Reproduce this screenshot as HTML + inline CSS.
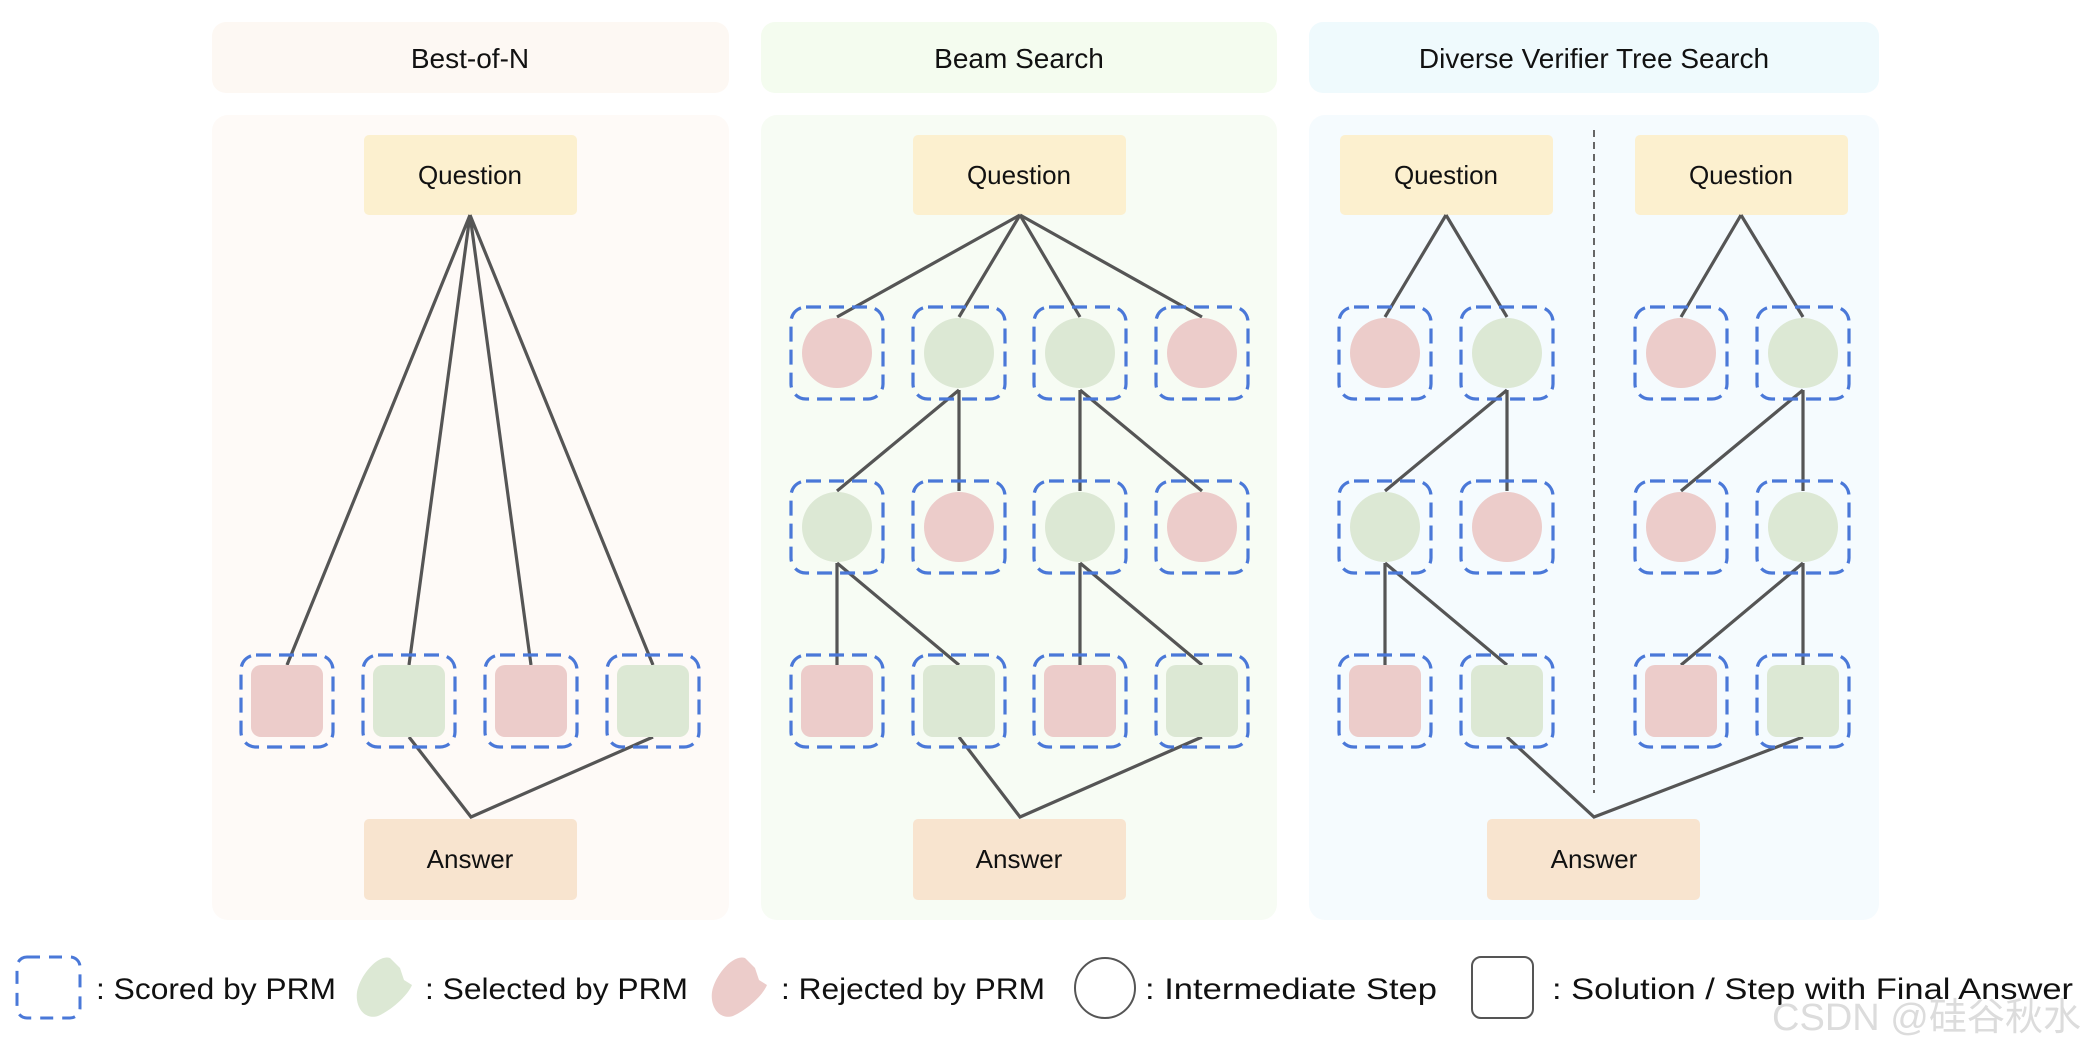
<!DOCTYPE html>
<html><head><meta charset="utf-8"><style>
html,body{margin:0;padding:0;background:#fff;width:2088px;height:1040px;overflow:hidden}
text{font-family:"Liberation Sans","DejaVu Sans",sans-serif;fill:#111}
</style></head><body>
<svg width="2088" height="1040" viewBox="0 0 2088 1040" xmlns="http://www.w3.org/2000/svg">
<defs>
<g id="db"><rect x="-46" y="-46" width="92" height="92" rx="15" fill="none" stroke="#4a78d8" stroke-width="3.2" stroke-dasharray="15 8"/></g>
<g id="rc"><use href="#db"/><circle r="35" fill="#ecccca"/></g>
<g id="gc"><use href="#db"/><circle r="35" fill="#dce8d4"/></g>
<g id="rs"><use href="#db"/><rect x="-36" y="-36" width="72" height="72" rx="10" fill="#ecccca"/></g>
<g id="gs"><use href="#db"/><rect x="-36" y="-36" width="72" height="72" rx="10" fill="#dce8d4"/></g>
</defs>
<!-- panels -->
<rect x="212" y="22" width="517" height="71" rx="14" fill="#fdf8f3"/>
<rect x="761" y="22" width="516" height="71" rx="14" fill="#f4fcef"/>
<rect x="1309" y="22" width="570" height="71" rx="14" fill="#effafd"/>
<rect x="212" y="115" width="517" height="805" rx="16" fill="#fefaf7"/>
<rect x="761" y="115" width="516" height="805" rx="16" fill="#f7fcf4"/>
<rect x="1309" y="115" width="570" height="805" rx="16" fill="#f5fbfe"/>
<g font-size="28" text-anchor="middle">
<text x="470" y="68">Best-of-N</text>
<text x="1019" y="68">Beam Search</text>
<text x="1594" y="68">Diverse Verifier Tree Search</text>
</g>
<!-- Q / A boxes -->
<g fill="#fcf0cf">
<rect x="364" y="135" width="213" height="80" rx="5"/>
<rect x="913" y="135" width="213" height="80" rx="5"/>
<rect x="1340" y="135" width="213" height="80" rx="5"/>
<rect x="1635" y="135" width="213" height="80" rx="5"/>
</g>
<g fill="#f8e4cf">
<rect x="364" y="819" width="213" height="81" rx="5"/>
<rect x="913" y="819" width="213" height="81" rx="5"/>
<rect x="1487" y="819" width="213" height="81" rx="5"/>
</g>
<g font-size="26" text-anchor="middle">
<text x="470" y="184">Question</text>
<text x="1019" y="184">Question</text>
<text x="1446" y="184">Question</text>
<text x="1741" y="184">Question</text>
<text x="470" y="868">Answer</text>
<text x="1019" y="868">Answer</text>
<text x="1594" y="868">Answer</text>
</g>
<line x1="1594" y1="130" x2="1594" y2="793" stroke="#666" stroke-width="2" stroke-dasharray="7 5"/>
<!-- lines -->
<g stroke="#555" stroke-width="3.2" fill="none">
<path d="M470 215 L287 665 M470 215 L409 665 M470 215 L531 665 M470 215 L653 665 M409 737 L471 817 L653 737"/>
<path d="M1020 215 L837 317 M1020 215 L959 317 M1020 215 L1080 317 M1020 215 L1202 317"/>
<path d="M959 390 L837 491 M959 390 L959 491 M1080 390 L1080 491 M1080 390 L1202 491"/>
<path d="M837 563 L837 665 M837 563 L959 665 M1080 563 L1080 665 M1080 563 L1202 665"/>
<path d="M959 737 L1020 817 L1202 737"/>
<path d="M1446 215 L1385 317 M1446 215 L1507 317 M1507 390 L1385 491 M1507 390 L1507 491 M1385 563 L1385 665 M1385 563 L1507 665"/>
<path d="M1741 215 L1681 317 M1741 215 L1803 317 M1803 390 L1681 491 M1803 390 L1803 491 M1803 563 L1681 665 M1803 563 L1803 665"/>
<path d="M1507 737 L1594 817 L1803 737"/>
</g>
<!-- nodes -->
<use href="#rs" x="287" y="701"/><use href="#gs" x="409" y="701"/><use href="#rs" x="531" y="701"/><use href="#gs" x="653" y="701"/>
<use href="#rc" x="837" y="353"/><use href="#gc" x="959" y="353"/><use href="#gc" x="1080" y="353"/><use href="#rc" x="1202" y="353"/>
<use href="#gc" x="837" y="527"/><use href="#rc" x="959" y="527"/><use href="#gc" x="1080" y="527"/><use href="#rc" x="1202" y="527"/>
<use href="#rs" x="837" y="701"/><use href="#gs" x="959" y="701"/><use href="#rs" x="1080" y="701"/><use href="#gs" x="1202" y="701"/>
<use href="#rc" x="1385" y="353"/><use href="#gc" x="1507" y="353"/>
<use href="#gc" x="1385" y="527"/><use href="#rc" x="1507" y="527"/>
<use href="#rs" x="1385" y="701"/><use href="#gs" x="1507" y="701"/>
<use href="#rc" x="1681" y="353"/><use href="#gc" x="1803" y="353"/>
<use href="#rc" x="1681" y="527"/><use href="#gc" x="1803" y="527"/>
<use href="#rs" x="1681" y="701"/><use href="#gs" x="1803" y="701"/>
<!-- legend -->
<rect x="17" y="957" width="63" height="61" rx="10" fill="none" stroke="#4a78d8" stroke-width="3" stroke-dasharray="13 9"/>
<path d="M390 958 C378 954 360 975 357 992 C355 1008 365 1020 378 1016 C392 1010 408 995 412 985 L404 980 L400 968 Z" fill="#dce8d4"/>
<path d="M745 958 C733 954 715 975 712 992 C710 1008 720 1020 733 1016 C747 1010 763 995 767 985 L759 980 L755 968 Z" fill="#ecccca"/>
<circle cx="1105" cy="988" r="30" fill="none" stroke="#555" stroke-width="2"/>
<rect x="1472" y="957" width="61" height="61" rx="9" fill="none" stroke="#555" stroke-width="2"/>
<g font-size="30">
<text x="96" y="999" textLength="240" lengthAdjust="spacingAndGlyphs">: Scored by PRM</text>
<text x="425" y="999" textLength="263" lengthAdjust="spacingAndGlyphs">: Selected by PRM</text>
<text x="781" y="999" textLength="264" lengthAdjust="spacingAndGlyphs">: Rejected by PRM</text>
<text x="1145" y="999" textLength="292" lengthAdjust="spacingAndGlyphs">: Intermediate Step</text>
<text x="1552" y="999" textLength="521" lengthAdjust="spacingAndGlyphs">: Solution / Step with Final Answer</text>
</g>
<text x="1772" y="1030" font-size="38" style="fill:#dcdcdc;font-family:'Liberation Sans','Noto Sans CJK SC',sans-serif" textLength="309" lengthAdjust="spacingAndGlyphs">CSDN @硅谷秋水</text>
</svg>
</body></html>
